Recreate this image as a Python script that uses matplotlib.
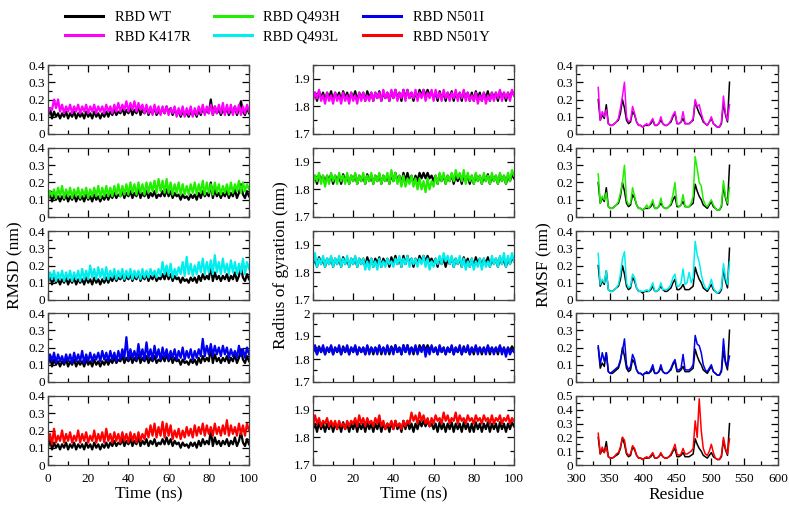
import numpy as np
import matplotlib
matplotlib.use("Agg")
from matplotlib import pyplot as plt
from matplotlib.lines import Line2D
from matplotlib.ticker import MultipleLocator, FormatStrFormatter

plt.rcParams["font.family"] = ["Liberation Serif", "DejaVu Serif"]

labels = ["RBD WT", "RBD K417R", "RBD Q493H", "RBD Q493L", "RBD N501I", "RBD N501Y"]
colors = ["black", "#ff00ff", "#22ee00", "#00eeee", "#0000ee", "#ff0000"]

# RMSD (nm), one value per ns
wt_rmsd = [0.10, 0.15, 0.09, 0.13, 0.10, 0.12, 0.09, 0.12, 0.10, 0.13,
           0.09, 0.12, 0.10, 0.13, 0.09, 0.12, 0.10, 0.12, 0.09, 0.13,
           0.10, 0.12, 0.09, 0.13, 0.10, 0.12, 0.09, 0.12, 0.10, 0.13,
           0.10, 0.13, 0.11, 0.14, 0.11, 0.13, 0.12, 0.15, 0.11, 0.14,
           0.12, 0.15, 0.11, 0.14, 0.12, 0.16, 0.11, 0.14, 0.12, 0.15,
           0.11, 0.14, 0.12, 0.15, 0.11, 0.13, 0.12, 0.15, 0.12, 0.16,
           0.12, 0.15, 0.11, 0.14, 0.12, 0.13, 0.10, 0.13, 0.11, 0.12,
           0.10, 0.13, 0.11, 0.13, 0.10, 0.14, 0.11, 0.15, 0.12, 0.14,
           0.12, 0.20, 0.11, 0.16, 0.12, 0.14, 0.11, 0.14, 0.12, 0.15,
           0.11, 0.14, 0.12, 0.16, 0.11, 0.14, 0.19, 0.13, 0.11, 0.15, 0.12]
k417r_rmsd = [0.12, 0.15, 0.14, 0.20, 0.15, 0.20, 0.13, 0.17, 0.12, 0.16,
              0.13, 0.17, 0.12, 0.16, 0.13, 0.17, 0.12, 0.16, 0.13, 0.17,
              0.12, 0.16, 0.13, 0.17, 0.12, 0.16, 0.13, 0.16, 0.12, 0.17,
              0.13, 0.16, 0.12, 0.17, 0.13, 0.18, 0.13, 0.17, 0.14, 0.19,
              0.13, 0.18, 0.14, 0.19, 0.13, 0.18, 0.14, 0.17, 0.12, 0.17,
              0.12, 0.16, 0.11, 0.17, 0.12, 0.16, 0.11, 0.16, 0.12, 0.16,
              0.11, 0.15, 0.12, 0.16, 0.10, 0.15, 0.11, 0.16, 0.10, 0.15,
              0.11, 0.16, 0.10, 0.15, 0.11, 0.16, 0.12, 0.17, 0.11, 0.16,
              0.12, 0.17, 0.11, 0.16, 0.12, 0.17, 0.12, 0.18, 0.11, 0.17,
              0.12, 0.17, 0.11, 0.16, 0.12, 0.17, 0.11, 0.16, 0.12, 0.17, 0.13]
q493h_rmsd = [0.11, 0.15, 0.12, 0.16, 0.11, 0.17, 0.12, 0.18, 0.11, 0.16,
              0.12, 0.17, 0.11, 0.16, 0.12, 0.17, 0.11, 0.16, 0.12, 0.17,
              0.11, 0.16, 0.12, 0.17, 0.12, 0.18, 0.11, 0.17, 0.12, 0.18,
              0.12, 0.17, 0.12, 0.18, 0.13, 0.19, 0.12, 0.18, 0.13, 0.19,
              0.13, 0.20, 0.14, 0.19, 0.13, 0.20, 0.14, 0.19, 0.13, 0.20,
              0.14, 0.20, 0.15, 0.21, 0.14, 0.22, 0.15, 0.21, 0.14, 0.22,
              0.14, 0.20, 0.13, 0.19, 0.14, 0.20, 0.13, 0.19, 0.13, 0.18,
              0.13, 0.19, 0.14, 0.20, 0.13, 0.19, 0.14, 0.21, 0.13, 0.20,
              0.14, 0.19, 0.13, 0.20, 0.14, 0.19, 0.13, 0.18, 0.14, 0.19,
              0.13, 0.20, 0.14, 0.19, 0.15, 0.21, 0.14, 0.20, 0.15, 0.19, 0.16]
q493l_rmsd = [0.11, 0.16, 0.12, 0.17, 0.11, 0.16, 0.12, 0.17, 0.11, 0.16,
              0.12, 0.17, 0.11, 0.16, 0.12, 0.17, 0.11, 0.18, 0.12, 0.17,
              0.12, 0.20, 0.13, 0.18, 0.12, 0.19, 0.13, 0.18, 0.12, 0.19,
              0.12, 0.17, 0.13, 0.18, 0.12, 0.17, 0.13, 0.18, 0.12, 0.17,
              0.13, 0.18, 0.12, 0.17, 0.13, 0.17, 0.12, 0.18, 0.13, 0.17,
              0.13, 0.18, 0.14, 0.17, 0.13, 0.18, 0.14, 0.22, 0.15, 0.20,
              0.14, 0.21, 0.13, 0.18, 0.14, 0.19, 0.15, 0.22, 0.14, 0.25,
              0.15, 0.21, 0.14, 0.20, 0.15, 0.22, 0.16, 0.24, 0.15, 0.22,
              0.16, 0.23, 0.15, 0.26, 0.16, 0.22, 0.15, 0.24, 0.16, 0.21,
              0.15, 0.23, 0.16, 0.22, 0.15, 0.21, 0.16, 0.24, 0.15, 0.22, 0.18]
n501i_rmsd = [0.11, 0.16, 0.12, 0.17, 0.11, 0.16, 0.12, 0.15, 0.11, 0.16,
              0.12, 0.16, 0.11, 0.17, 0.12, 0.16, 0.12, 0.18, 0.11, 0.16,
              0.12, 0.17, 0.12, 0.16, 0.13, 0.17, 0.12, 0.18, 0.13, 0.17,
              0.12, 0.18, 0.13, 0.17, 0.12, 0.18, 0.13, 0.19, 0.14, 0.26,
              0.13, 0.19, 0.14, 0.18, 0.13, 0.22, 0.14, 0.19, 0.13, 0.23,
              0.14, 0.19, 0.13, 0.21, 0.14, 0.19, 0.13, 0.20, 0.14, 0.19,
              0.13, 0.18, 0.14, 0.19, 0.13, 0.18, 0.14, 0.20, 0.13, 0.18,
              0.14, 0.19, 0.13, 0.18, 0.14, 0.19, 0.15, 0.25, 0.15, 0.21,
              0.16, 0.22, 0.15, 0.21, 0.16, 0.20, 0.15, 0.21, 0.16, 0.20,
              0.14, 0.19, 0.15, 0.18, 0.14, 0.21, 0.15, 0.19, 0.14, 0.20, 0.16]
n501y_rmsd = [0.13, 0.18, 0.12, 0.21, 0.13, 0.17, 0.14, 0.20, 0.13, 0.18,
              0.14, 0.19, 0.13, 0.17, 0.14, 0.20, 0.13, 0.18, 0.14, 0.19,
              0.13, 0.17, 0.14, 0.20, 0.13, 0.18, 0.14, 0.19, 0.13, 0.21,
              0.14, 0.18, 0.13, 0.19, 0.14, 0.18, 0.13, 0.19, 0.14, 0.18,
              0.13, 0.19, 0.14, 0.18, 0.13, 0.19, 0.14, 0.18, 0.15, 0.21,
              0.16, 0.23, 0.17, 0.24, 0.16, 0.22, 0.17, 0.25, 0.16, 0.24,
              0.17, 0.23, 0.15, 0.20, 0.16, 0.21, 0.15, 0.20, 0.16, 0.22,
              0.17, 0.21, 0.16, 0.23, 0.17, 0.22, 0.18, 0.24, 0.17, 0.23,
              0.18, 0.22, 0.17, 0.24, 0.18, 0.22, 0.17, 0.23, 0.18, 0.26,
              0.17, 0.23, 0.18, 0.22, 0.17, 0.24, 0.18, 0.23, 0.17, 0.24, 0.20]

# radius of gyration (nm), one value per ns
wt_rg = [1.83, 1.85, 1.82, 1.855, 1.83, 1.85, 1.82, 1.85, 1.83, 1.855,
         1.82, 1.85, 1.83, 1.85, 1.82, 1.855, 1.83, 1.85, 1.82, 1.85,
         1.83, 1.855, 1.82, 1.85, 1.83, 1.85, 1.82, 1.855, 1.83, 1.85,
         1.82, 1.85, 1.83, 1.855, 1.82, 1.85, 1.83, 1.85, 1.82, 1.855,
         1.83, 1.86, 1.83, 1.85, 1.82, 1.86, 1.83, 1.86, 1.83, 1.85,
         1.82, 1.85, 1.83, 1.86, 1.84, 1.86, 1.84, 1.86, 1.84, 1.85,
         1.83, 1.85, 1.82, 1.855, 1.83, 1.85, 1.82, 1.85, 1.83, 1.855,
         1.82, 1.85, 1.83, 1.85, 1.82, 1.855, 1.83, 1.85, 1.82, 1.85,
         1.82, 1.855, 1.83, 1.85, 1.82, 1.85, 1.83, 1.855, 1.82, 1.85,
         1.83, 1.85, 1.82, 1.855, 1.83, 1.85, 1.82, 1.85, 1.83, 1.855, 1.84]
k417r_rg = [1.82, 1.85, 1.83, 1.86, 1.82, 1.84, 1.81, 1.85, 1.82, 1.84,
            1.81, 1.85, 1.82, 1.84, 1.81, 1.85, 1.82, 1.84, 1.81, 1.85,
            1.82, 1.84, 1.81, 1.85, 1.82, 1.85, 1.82, 1.84, 1.82, 1.85,
            1.82, 1.85, 1.83, 1.85, 1.82, 1.86, 1.83, 1.85, 1.82, 1.86,
            1.83, 1.86, 1.82, 1.85, 1.83, 1.86, 1.82, 1.86, 1.83, 1.85,
            1.83, 1.86, 1.82, 1.85, 1.83, 1.86, 1.82, 1.85, 1.83, 1.86,
            1.82, 1.86, 1.83, 1.85, 1.82, 1.86, 1.83, 1.85, 1.82, 1.85,
            1.83, 1.86, 1.82, 1.85, 1.83, 1.86, 1.82, 1.85, 1.82, 1.84,
            1.82, 1.85, 1.81, 1.84, 1.82, 1.85, 1.81, 1.84, 1.82, 1.85,
            1.82, 1.85, 1.83, 1.86, 1.82, 1.85, 1.83, 1.85, 1.82, 1.86, 1.84]
q493h_rg = [1.82, 1.85, 1.83, 1.86, 1.82, 1.85, 1.81, 1.85, 1.82, 1.86,
            1.83, 1.85, 1.82, 1.86, 1.83, 1.85, 1.82, 1.86, 1.82, 1.85,
            1.83, 1.86, 1.82, 1.85, 1.83, 1.86, 1.82, 1.85, 1.83, 1.86,
            1.82, 1.85, 1.83, 1.86, 1.82, 1.85, 1.83, 1.86, 1.82, 1.87,
            1.83, 1.86, 1.82, 1.85, 1.81, 1.85, 1.81, 1.84, 1.82, 1.85,
            1.81, 1.84, 1.80, 1.84, 1.80, 1.83, 1.79, 1.84, 1.80, 1.83,
            1.81, 1.85, 1.82, 1.86, 1.83, 1.86, 1.82, 1.85, 1.83, 1.86,
            1.83, 1.87, 1.84, 1.86, 1.83, 1.87, 1.82, 1.86, 1.83, 1.85,
            1.82, 1.86, 1.83, 1.85, 1.82, 1.86, 1.83, 1.85, 1.82, 1.86,
            1.83, 1.85, 1.82, 1.86, 1.83, 1.85, 1.82, 1.86, 1.83, 1.87, 1.85]
q493l_rg = [1.83, 1.87, 1.82, 1.85, 1.83, 1.86, 1.82, 1.85, 1.83, 1.86,
            1.82, 1.85, 1.83, 1.86, 1.82, 1.85, 1.83, 1.86, 1.82, 1.85,
            1.83, 1.86, 1.82, 1.85, 1.83, 1.85, 1.81, 1.84, 1.81, 1.85,
            1.82, 1.84, 1.81, 1.85, 1.82, 1.84, 1.82, 1.85, 1.83, 1.84,
            1.82, 1.85, 1.83, 1.86, 1.82, 1.85, 1.83, 1.86, 1.82, 1.85,
            1.83, 1.85, 1.82, 1.85, 1.83, 1.86, 1.82, 1.85, 1.81, 1.84,
            1.82, 1.85, 1.83, 1.86, 1.83, 1.87, 1.84, 1.86, 1.83, 1.86,
            1.82, 1.85, 1.83, 1.86, 1.82, 1.85, 1.81, 1.84, 1.82, 1.85,
            1.81, 1.84, 1.82, 1.85, 1.81, 1.85, 1.82, 1.84, 1.82, 1.86,
            1.83, 1.85, 1.82, 1.86, 1.83, 1.87, 1.82, 1.86, 1.83, 1.87, 1.84]
n501i_rg = [1.83, 1.86, 1.82, 1.85, 1.83, 1.86, 1.82, 1.85, 1.83, 1.86,
            1.82, 1.85, 1.83, 1.86, 1.82, 1.85, 1.83, 1.86, 1.82, 1.85,
            1.83, 1.86, 1.82, 1.85, 1.83, 1.85, 1.82, 1.86, 1.82, 1.85,
            1.83, 1.85, 1.82, 1.86, 1.83, 1.85, 1.82, 1.86, 1.83, 1.85,
            1.82, 1.86, 1.83, 1.85, 1.82, 1.86, 1.83, 1.86, 1.82, 1.85,
            1.83, 1.86, 1.82, 1.85, 1.83, 1.86, 1.81, 1.85, 1.82, 1.86,
            1.83, 1.85, 1.82, 1.86, 1.83, 1.85, 1.82, 1.85, 1.83, 1.86,
            1.82, 1.85, 1.83, 1.86, 1.82, 1.85, 1.83, 1.86, 1.82, 1.85,
            1.83, 1.86, 1.82, 1.85, 1.83, 1.85, 1.82, 1.86, 1.83, 1.85,
            1.82, 1.85, 1.83, 1.86, 1.82, 1.85, 1.81, 1.85, 1.82, 1.84, 1.83]
n501y_rg = [1.84, 1.88, 1.85, 1.87, 1.84, 1.86, 1.85, 1.87, 1.84, 1.86,
            1.84, 1.86, 1.83, 1.86, 1.84, 1.85, 1.83, 1.86, 1.84, 1.86,
            1.85, 1.87, 1.84, 1.88, 1.85, 1.87, 1.84, 1.87, 1.85, 1.86,
            1.84, 1.87, 1.85, 1.88, 1.84, 1.86, 1.83, 1.85, 1.84, 1.86,
            1.83, 1.86, 1.84, 1.85, 1.83, 1.86, 1.84, 1.86, 1.85, 1.89,
            1.86, 1.88, 1.85, 1.89, 1.86, 1.88, 1.85, 1.87, 1.84, 1.87,
            1.85, 1.88, 1.86, 1.87, 1.85, 1.89, 1.86, 1.88, 1.85, 1.87,
            1.86, 1.89, 1.85, 1.88, 1.86, 1.87, 1.85, 1.88, 1.86, 1.87,
            1.85, 1.88, 1.86, 1.87, 1.85, 1.88, 1.86, 1.87, 1.85, 1.88,
            1.85, 1.87, 1.86, 1.88, 1.85, 1.87, 1.86, 1.88, 1.85, 1.87, 1.86]

# RMSF (nm) per residue, residues 333..528 every 3
residues = list(range(333, 529, 3))
wt_rmsf = [0.20, 0.08, 0.11, 0.09, 0.17, 0.06, 0.05, 0.05, 0.06, 0.07,
           0.08, 0.12, 0.20, 0.15, 0.08, 0.06, 0.07, 0.13, 0.11, 0.07,
           0.05, 0.05, 0.04, 0.05, 0.05, 0.05, 0.06, 0.08, 0.05, 0.05,
           0.06, 0.08, 0.06, 0.05, 0.05, 0.06, 0.07, 0.10, 0.12, 0.06,
           0.06, 0.07, 0.09, 0.06, 0.06, 0.06, 0.07, 0.08, 0.19, 0.15,
           0.12, 0.10, 0.07, 0.06, 0.05, 0.07, 0.09, 0.06, 0.05, 0.04,
           0.04, 0.06, 0.18, 0.11, 0.07, 0.30]
k417r_rmsf = [0.27, 0.08, 0.13, 0.10, 0.14, 0.06, 0.05, 0.05, 0.06, 0.07,
              0.09, 0.15, 0.22, 0.30, 0.10, 0.07, 0.08, 0.16, 0.12, 0.07,
              0.05, 0.05, 0.04, 0.05, 0.06, 0.05, 0.07, 0.09, 0.05, 0.05,
              0.06, 0.10, 0.06, 0.05, 0.05, 0.06, 0.08, 0.11, 0.13, 0.06,
              0.06, 0.07, 0.13, 0.06, 0.06, 0.06, 0.07, 0.09, 0.20, 0.16,
              0.17, 0.12, 0.08, 0.06, 0.05, 0.07, 0.10, 0.06, 0.05, 0.04,
              0.04, 0.07, 0.22, 0.12, 0.08, 0.17]
q493h_rmsf = [0.25, 0.08, 0.12, 0.10, 0.14, 0.06, 0.05, 0.05, 0.06, 0.07,
              0.09, 0.14, 0.20, 0.30, 0.10, 0.07, 0.08, 0.17, 0.12, 0.07,
              0.05, 0.05, 0.04, 0.05, 0.07, 0.05, 0.07, 0.10, 0.05, 0.05,
              0.06, 0.11, 0.06, 0.05, 0.05, 0.06, 0.08, 0.13, 0.20, 0.07,
              0.06, 0.07, 0.13, 0.06, 0.06, 0.06, 0.08, 0.12, 0.35, 0.28,
              0.20, 0.18, 0.10, 0.07, 0.06, 0.08, 0.10, 0.07, 0.05, 0.04,
              0.04, 0.07, 0.21, 0.12, 0.08, 0.17]
q493l_rmsf = [0.27, 0.09, 0.12, 0.10, 0.17, 0.06, 0.05, 0.05, 0.06, 0.07,
              0.09, 0.15, 0.24, 0.28, 0.10, 0.07, 0.08, 0.15, 0.13, 0.07,
              0.05, 0.05, 0.05, 0.05, 0.06, 0.05, 0.07, 0.10, 0.05, 0.05,
              0.06, 0.10, 0.06, 0.06, 0.06, 0.07, 0.09, 0.13, 0.15, 0.08,
              0.08, 0.10, 0.18, 0.09, 0.10, 0.16, 0.10, 0.13, 0.34, 0.26,
              0.22, 0.15, 0.10, 0.07, 0.06, 0.08, 0.12, 0.07, 0.05, 0.04,
              0.05, 0.07, 0.21, 0.13, 0.09, 0.22]
n501i_rmsf = [0.21, 0.10, 0.17, 0.12, 0.17, 0.06, 0.05, 0.06, 0.07, 0.08,
              0.09, 0.13, 0.18, 0.25, 0.10, 0.07, 0.09, 0.16, 0.13, 0.07,
              0.05, 0.05, 0.04, 0.05, 0.06, 0.05, 0.07, 0.10, 0.05, 0.05,
              0.06, 0.10, 0.06, 0.05, 0.05, 0.06, 0.08, 0.11, 0.13, 0.07,
              0.07, 0.08, 0.16, 0.07, 0.07, 0.07, 0.08, 0.10, 0.27, 0.22,
              0.21, 0.17, 0.10, 0.07, 0.06, 0.08, 0.10, 0.06, 0.05, 0.04,
              0.04, 0.07, 0.25, 0.12, 0.09, 0.15]
n501y_rmsf = [0.23, 0.08, 0.13, 0.09, 0.13, 0.06, 0.05, 0.05, 0.06, 0.08,
              0.09, 0.13, 0.20, 0.18, 0.09, 0.07, 0.08, 0.14, 0.12, 0.07,
              0.05, 0.05, 0.04, 0.05, 0.06, 0.05, 0.07, 0.09, 0.05, 0.05,
              0.06, 0.09, 0.06, 0.05, 0.05, 0.06, 0.08, 0.11, 0.15, 0.08,
              0.07, 0.08, 0.12, 0.08, 0.08, 0.09, 0.10, 0.12, 0.32, 0.20,
              0.48, 0.25, 0.12, 0.08, 0.07, 0.10, 0.15, 0.09, 0.05, 0.04,
              0.04, 0.07, 0.20, 0.12, 0.08, 0.19]

mut_rmsd = [k417r_rmsd, q493h_rmsd, q493l_rmsd, n501i_rmsd, n501y_rmsd]
mut_rg = [k417r_rg, q493h_rg, q493l_rg, n501i_rg, n501y_rg]
mut_rmsf = [k417r_rmsf, q493h_rmsf, q493l_rmsf, n501i_rmsf, n501y_rmsf]

W, H = 789, 507
fig = plt.figure(figsize=(W / 100, H / 100), dpi=100)

col_left = [48, 313, 576]
col_width = [201, 201, 202]
row_top = [65, 148, 231, 313, 396]
row_h = 69
trace_lw = 1.6


def make_ax(row, col):
    l = col_left[col] / W
    b = 1 - (row_top[row] + row_h) / H
    ax = fig.add_axes([l, b, col_width[col] / W, row_h / H])
    ax.tick_params(which="both", direction="in", top=True, right=True, labelsize=9.5)
    ax.tick_params(axis="y", pad=2)
    ax.tick_params(axis="x", pad=6)
    ax.tick_params(which="major", length=5, width=0.9)
    ax.tick_params(which="minor", length=3, width=0.9)
    for s in ax.spines.values():
        s.set_linewidth(0.9)
        s.set_color("#444444")
    ax.yaxis.set_major_locator(MultipleLocator(0.1))
    ax.yaxis.set_minor_locator(MultipleLocator(0.05))
    ax.yaxis.set_major_formatter(FormatStrFormatter("%g"))
    return ax


for r in range(5):
    c = colors[r + 1]
    # RMSD
    ax = make_ax(r, 0)
    ax.plot(np.linspace(0, 100, len(wt_rmsd)), wt_rmsd, color="black", lw=trace_lw)
    ax.plot(np.linspace(0, 100, len(mut_rmsd[r])), mut_rmsd[r], color=c, lw=trace_lw)
    ax.set_xlim(0, 100)
    ax.set_ylim(0, 0.4)
    ax.xaxis.set_major_locator(MultipleLocator(20))
    ax.xaxis.set_minor_locator(MultipleLocator(10))
    if r < 4:
        ax.set_xticklabels([])
    else:
        ax.set_xlabel("Time (ns)", fontsize=12.5, labelpad=1)

    # radius of gyration
    ax = make_ax(r, 1)
    ax.plot(np.linspace(0, 100, len(wt_rg)), wt_rg, color="black", lw=trace_lw)
    ax.plot(np.linspace(0, 100, len(mut_rg[r])), mut_rg[r], color=c, lw=trace_lw)
    ax.set_xlim(0, 100)
    ax.set_ylim(1.7, 2.0 if r == 3 else 1.95)
    ax.xaxis.set_major_locator(MultipleLocator(20))
    ax.xaxis.set_minor_locator(MultipleLocator(10))
    if r < 4:
        ax.set_xticklabels([])
    else:
        ax.set_xlabel("Time (ns)", fontsize=12.5, labelpad=1)

    # RMSF
    ax = make_ax(r, 2)
    ax.plot(residues, wt_rmsf, color="black", lw=1.1)
    ax.plot(residues, mut_rmsf[r], color=c, lw=1.1)
    ax.set_xlim(300, 600)
    ax.set_ylim(0, 0.5 if r == 4 else 0.4)
    ax.xaxis.set_major_locator(MultipleLocator(50))
    ax.xaxis.set_minor_locator(MultipleLocator(25))
    if r < 4:
        ax.set_xticklabels([])
    else:
        ax.set_xlabel("Residue", fontsize=12.5, labelpad=1)

fig.text(15 / W, 1 - 265 / H, "RMSD (nm)", rotation=90, ha="center", va="center", fontsize=12.5)
fig.text(281 / W, 1 - 265 / H, "Radius of gyration (nm)", rotation=90, ha="center", va="center", fontsize=12.5)
fig.text(544 / W, 1 - 265 / H, "RMSF (nm)", rotation=90, ha="center", va="center", fontsize=12.5)

handles = [Line2D([], [], color=c, lw=2.2) for c in colors]
fig.legend(handles, labels, ncol=3, loc="upper left", bbox_to_anchor=(52 / W, 1.005),
           frameon=False, fontsize=10.5, handlelength=2.6, handletextpad=0.8,
           columnspacing=1.6, labelspacing=0.45)

fig.savefig("out.png", dpi=100)
